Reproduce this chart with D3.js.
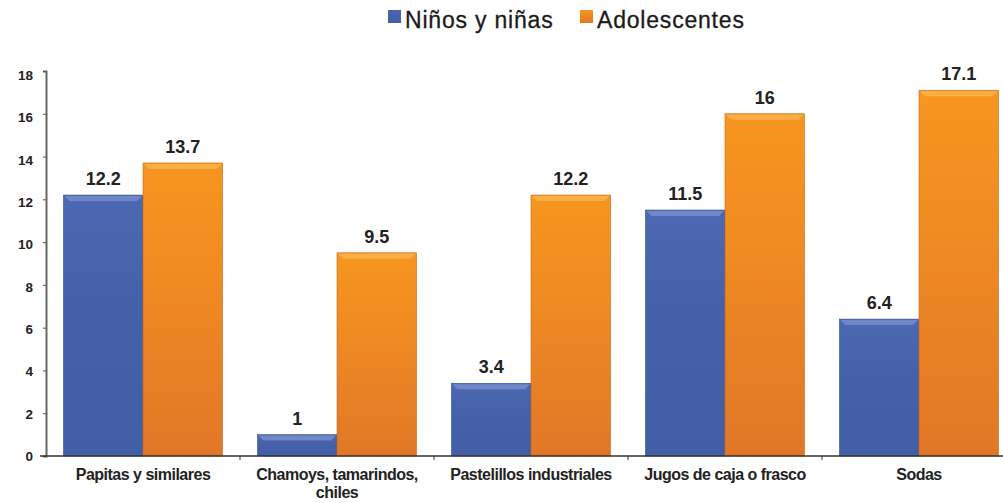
<!DOCTYPE html>
<html lang="es">
<head>
<meta charset="UTF-8" />
<title>Consumo por categoría</title>
<script src="https://d3js.org/d3.v7.min.js"></script>
<style>
  body { margin: 0; background: #fff; font-family: "Liberation Sans", Arial, sans-serif; }
  svg { display: block; }
  .tick text { font-size: 13.5px; font-weight: bold; fill: #222; }
  .value { font-size: 18px; font-weight: bold; fill: #222; text-anchor: middle; }
  .cat { font-size: 16px; fill: #222; text-anchor: middle; font-weight: bold; letter-spacing: -0.5px; }
  .legend text { font-size: 23px; fill: #1a1a1a; letter-spacing: 0.8px; stroke: #1a1a1a; stroke-width: 0.3px; }
</style>
</head>
<body>
<div id="chart"></div>
<script>
const categories = ["Papitas y similares", "Chamoys, tamarindos,|chiles", "Pastelillos industriales", "Jugos de caja o frasco", "Sodas"];
const ninos = [12.2, 1, 3.4, 11.5, 6.4];
const adolescentes = [13.7, 9.5, 12.2, 16, 17.1];
const seriesNames = ["Niños y niñas", "Adolescentes"];
const yTicks = [0, 2, 4, 6, 8, 10, 12, 14, 16, 18];

const width = 1003, height = 503;
const svg = d3.select("#chart").append("svg")
  .attr("width", width).attr("height", height);

const defs = svg.append("defs");
const grads = [
  { id: "gBlue", top: "#4c68b2", mid: "#4461a9", bot: "#425ea6" },
  { id: "gOrange", top: "#f6961f", mid: "#f08a22", bot: "#e07727" }
];
grads.forEach(g => {
  const lg = defs.append("linearGradient").attr("id", g.id)
    .attr("x1", 0).attr("y1", 0).attr("x2", 0).attr("y2", 1);
  lg.append("stop").attr("offset", "0%").attr("stop-color", g.top);
  lg.append("stop").attr("offset", "40%").attr("stop-color", g.mid);
  lg.append("stop").attr("offset", "100%").attr("stop-color", g.bot);
});
const fills = ["url(#gBlue)", "url(#gOrange)"];
const edges = ["#3a5396", "#c96a1c"];
const highlights = ["#7f95cf", "#fbb955"];

const x0 = d3.scaleBand().domain(categories).range([46, 1016]).paddingInner(0.18).paddingOuter(0.09);
const x1 = d3.scaleBand().domain([0, 1]).range([0, x0.bandwidth()]);
const y = d3.scaleLinear().domain([0, 18]).range([456, 71]);

// y axis
const yAxis = svg.append("g").attr("transform", "translate(46,0)")
  .call(d3.axisLeft(y).tickValues(yTicks).tickSize(3).tickPadding(10));
yAxis.select(".domain").attr("stroke", "#666").attr("stroke-width", 2);
yAxis.selectAll(".tick line").attr("stroke", "#555");
yAxis.selectAll(".tick text").attr("dy", d => (0.32 + (d / 18) * 0.3) + "em");

// bars
const data = categories.map((c, i) => ({ cat: c, vals: [ninos[i], adolescentes[i]] }));
const groups = svg.selectAll(".grp").data(data).enter().append("g")
  .attr("transform", d => `translate(${x0(d.cat)},0)`);

groups.each(function(d) {
  const g = d3.select(this);
  d.vals.forEach((v, s) => {
    const bx = x1(s), bw = x1.bandwidth(), by = y(v), bh = y(0) - y(v);
    g.append("rect").attr("x", bx).attr("y", by).attr("width", bw).attr("height", bh)
      .attr("fill", fills[s]).attr("stroke", edges[s]).attr("stroke-width", 0.6);
    g.append("path")
      .attr("d", `M${bx + 1},${by + 1} L${bx + bw - 1},${by + 1} L${bx + bw - 6},${by + 6} L${bx + 6},${by + 6} Z`)
      .attr("fill", highlights[s]).attr("opacity", 0.7);
    g.append("text").attr("class", "value")
      .attr("x", bx + bw / 2).attr("y", by - 10)
      .text(v);
  });
});

// x axis
svg.append("line").attr("x1", 40).attr("x2", width).attr("y1", 456).attr("y2", 456)
  .attr("stroke", "#333").attr("stroke-width", 1.5);
categories.slice(1).forEach(c => {
  const tx = x0(c) - x0.step() * x0.paddingInner() / 2;
  svg.append("line").attr("x1", tx).attr("x2", tx).attr("y1", 456).attr("y2", 460)
    .attr("stroke", "#333");
});
categories.forEach(c => {
  const lines = c.split("|");
  const t = svg.append("text").attr("class", "cat")
    .attr("x", x0(c) + x0.bandwidth() / 2).attr("y", 480);
  lines.forEach((ln, k) => {
    t.append("tspan").attr("x", x0(c) + x0.bandwidth() / 2).attr("dy", k === 0 ? 0 : 18).text(ln);
  });
});

// legend
const legend = svg.append("g").attr("class", "legend");
const legendX = [388, 580];
seriesNames.forEach((n, s) => {
  legend.append("rect").attr("x", legendX[s]).attr("y", 10).attr("width", 13).attr("height", 13)
    .attr("fill", fills[s]);
  legend.append("text").attr("x", legendX[s] + 17).attr("y", 28).text(n);
});
</script>
</body>
</html>
